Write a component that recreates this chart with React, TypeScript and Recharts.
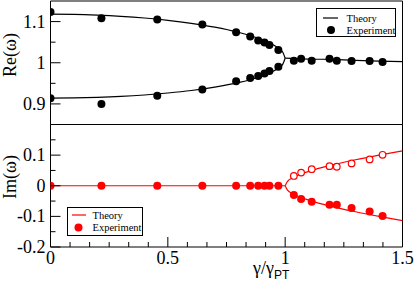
import { ComposedChart, Line, Scatter, XAxis, YAxis, ReferenceArea } from "recharts";

// experiment, gamma / gamma_PT
const expGamma = [0, 0.217, 0.455, 0.647, 0.791, 0.851, 0.885, 0.912, 0.933, 0.971, 1.037, 1.068, 1.113, 1.189, 1.22, 1.283, 1.36, 1.415];
const expReUpper = [1.123, 1.108, 1.105, 1.093, 1.074, 1.064, 1.054, 1.049, 1.043, 1.031, 1.005, 1.01, 1.005, 1.01, 1.005, 1.004, 1.004, 1.002];
const expReLower = [0.914, 0.9, 0.92, 0.935, 0.955, 0.963, 0.968, 0.974, 0.98, 0.99];
const expImZero = [0, 0, 0, 0, 0, 0, 0, 0, 0, 0];
const expImOpen = [0.032, 0.043, 0.054, 0.064, 0.062, 0.073, 0.086, 0.101];
const expImLower = [-0.03, -0.043, -0.052, -0.062, -0.062, -0.073, -0.084, -0.099];

// theory curves
const thGamma = [0, 0.1, 0.2, 0.3, 0.4, 0.5, 0.6, 0.7, 0.8, 0.85, 0.9, 0.94, 0.97, 0.99, 1.0];
const thReUpper = [1.118, 1.1175, 1.1157, 1.1128, 1.1087, 1.1031, 1.0958, 1.0864, 1.074, 1.0661, 1.0565, 1.0464, 1.0361, 1.0255, 1.011];
const thReLower = [0.914, 0.9145, 0.9159, 0.9182, 0.9217, 0.9265, 0.9326, 0.9408, 0.9516, 0.9587, 0.9675, 0.9768, 0.9865, 0.9967, 1.011];
const thTailGamma = [1.0, 1.05, 1.1, 1.2, 1.3, 1.4, 1.5];
const thReTail = [1.011, 1.01, 1.009, 1.008, 1.006, 1.004, 1.0025];
const thImZeroGamma = [0, 1.0];
const thImZero = [0, 0];
const thImGamma = [1.0, 1.01, 1.03, 1.06, 1.1, 1.2, 1.3, 1.4, 1.5];
const thImUpper = [0, 0.0145, 0.025, 0.036, 0.047, 0.068, 0.085, 0.1, 0.114];
const thImLower = [0, -0.0145, -0.025, -0.036, -0.047, -0.068, -0.085, -0.1, -0.114];

// ticks
const xTicks = [0, 0.0833, 0.1667, 0.25, 0.3333, 0.4167, 0.5, 0.5833, 0.6667, 0.75, 0.8333, 0.9167, 1, 1.0833, 1.1667, 1.25, 1.3333, 1.4167, 1.5];
const xMajor = [0, 0.5, 1, 1.5];
const reTicks = [0.9, 0.95, 1, 1.05, 1.1];
const reMajor = [0.9, 1, 1.1];
const imTicks = [-0.2, -0.15, -0.1, -0.05, 0, 0.05, 0.1, 0.15];
const imMajor = [-0.2, -0.1, 0, 0.1];

const pts = (g: number[], v: number[]) => v.map((val, i) => ({ g: g[i], v: val }));

const SERIF = "Liberation Serif, Times New Roman, serif";
const RED = "#ff0000";
const W = 415;

const xTick = (labels: boolean) => (props: any) => {
  const { x, y, payload } = props;
  const major = xMajor.includes(payload.value);
  return (
    <g>
      <line x1={x} x2={x} y1={y} y2={y - (major ? 10 : 5)} stroke="#000" />
      {labels && major && (
        <text x={x} y={y + 11} textAnchor="middle" dominantBaseline="central" fontSize={18} style={{ fontFamily: SERIF }} fill="#000">
          {String(payload.value)}
        </text>
      )}
    </g>
  );
};

const yTick = (majors: number[]) => (props: any) => {
  const { x, y, payload } = props;
  const major = majors.includes(payload.value);
  return (
    <g>
      <line x1={x} x2={x + (major ? 10 : 5)} y1={y} y2={y} stroke="#000" />
      {major && (
        <text x={x - 5} y={y} textAnchor="end" dominantBaseline="central" fontSize={18} style={{ fontFamily: SERIF }} fill="#000">
          {String(payload.value)}
        </text>
      )}
    </g>
  );
};

const dot = (fill: string, r: number) => (p: any) => <circle cx={p.cx} cy={p.cy} r={r} fill={fill} />;
const ring = (p: any) => <circle cx={p.cx} cy={p.cy} r={3.3} fill="#fff" stroke={RED} strokeWidth={1.2} />;

const legendText = { fontFamily: SERIF, fontSize: 10.5 };

export default function App() {
  return (
    <div style={{ position: "absolute", left: 0, top: 0, width: W, height: 282, background: "#fff", fontFamily: SERIF }}>
      {/* Re panel */}
      <div style={{ position: "absolute", left: 0, top: 0 }}>
        <ComposedChart width={W} height={125} margin={{ top: 1, right: 12.5, bottom: 0.5, left: 0.5 }}>
          <XAxis type="number" dataKey="g" domain={[0, 1.5]} allowDataOverflow ticks={xTicks} interval={0}
            height={0} tickSize={0} tickMargin={0} axisLine={false} tickLine={false} tick={xTick(false)} />
          <YAxis type="number" domain={[0.85, 1.15]} allowDataOverflow ticks={reTicks} interval={0}
            width={50} tickSize={0} tickMargin={0} axisLine={false} tickLine={false} tick={yTick(reMajor)} />
          <ReferenceArea x1={0} x2={1.5} y1={0.85} y2={1.15} fill="none" stroke="#000" strokeWidth={1} fillOpacity={0} strokeOpacity={1} />
          <Line data={pts(thGamma, thReUpper)} dataKey="v" type="monotone" stroke="#000" strokeWidth={1.2} dot={false} isAnimationActive={false} />
          <Line data={pts(thGamma, thReLower)} dataKey="v" type="monotone" stroke="#000" strokeWidth={1.2} dot={false} isAnimationActive={false} />
          <Line data={pts(thTailGamma, thReTail)} dataKey="v" type="monotone" stroke="#000" strokeWidth={1.2} dot={false} isAnimationActive={false} />
          <Scatter data={pts(expGamma, expReUpper)} dataKey="v" shape={dot("#000", 4)} isAnimationActive={false} />
          <Scatter data={pts(expGamma, expReLower)} dataKey="v" shape={dot("#000", 4)} isAnimationActive={false} />
        </ComposedChart>
      </div>

      {/* Im panel */}
      <div style={{ position: "absolute", left: 0, top: 124 }}>
        <ComposedChart width={W} height={158} margin={{ top: 0.5, right: 12.5, bottom: 0, left: 0.5 }}>
          <XAxis type="number" dataKey="g" domain={[0, 1.5]} allowDataOverflow ticks={xTicks} interval={0}
            height={35} tickSize={0} tickMargin={0} axisLine={false} tickLine={false} tick={xTick(true)} />
          <YAxis type="number" domain={[-0.2, 0.2]} allowDataOverflow ticks={imTicks} interval={0}
            width={50} tickSize={0} tickMargin={0} axisLine={false} tickLine={false} tick={yTick(imMajor)} />
          <ReferenceArea x1={0} x2={1.5} y1={-0.2} y2={0.2} fill="none" stroke="#000" strokeWidth={1} fillOpacity={0} strokeOpacity={1} />
          <Line data={pts(thImZeroGamma, thImZero)} dataKey="v" type="linear" stroke={RED} strokeWidth={1.2} dot={false} isAnimationActive={false} />
          <Line data={pts(thImGamma, thImUpper)} dataKey="v" type="monotone" stroke={RED} strokeWidth={1.2} dot={false} isAnimationActive={false} />
          <Line data={pts(thImGamma, thImLower)} dataKey="v" type="monotone" stroke={RED} strokeWidth={1.2} dot={false} isAnimationActive={false} />
          <Scatter data={pts(expGamma, expImZero)} dataKey="v" shape={dot(RED, 4)} isAnimationActive={false} />
          <Scatter data={pts(expGamma.slice(10), expImOpen)} dataKey="v" shape={ring} isAnimationActive={false} />
          <Scatter data={pts(expGamma.slice(10), expImLower)} dataKey="v" shape={dot(RED, 4)} isAnimationActive={false} />
        </ComposedChart>
      </div>

      {/* axis titles */}
      <div style={{ position: "absolute", left: 10, top: 54.5, transform: "translate(-50%, -50%) rotate(-90deg)", fontSize: 18, whiteSpace: "nowrap", lineHeight: 1 }}>
        Re(ω)
      </div>
      <div style={{ position: "absolute", left: 10, top: 177, transform: "translate(-50%, -50%) rotate(-90deg)", fontSize: 18, whiteSpace: "nowrap", lineHeight: 1 }}>
        Im(ω)
      </div>
      <div style={{ position: "absolute", left: 253, top: 259, fontSize: 18, whiteSpace: "nowrap", lineHeight: 1 }}>
        γ/γ<span style={{ fontFamily: "Liberation Sans, Arial, sans-serif", fontSize: 12, position: "relative", top: 5 }}>PT</span>
      </div>

      {/* legends */}
      <svg width={W} height={282} style={{ position: "absolute", left: 0, top: 0, pointerEvents: "none" }}>
        <rect x={316.5} y={8.5} width={79} height={28} fill="#fff" stroke="#000" strokeWidth={1} />
        <line x1={323} x2={338} y1={18} y2={18} stroke="#000" strokeWidth={1.2} />
        <text x={346.5} y={18} dominantBaseline="central" style={legendText}>Theory</text>
        <circle cx={331} cy={30} r={4} fill="#000" />
        <text x={346.5} y={30} dominantBaseline="central" style={legendText}>Experiment</text>

        <rect x={67.5} y={207.5} width={75} height={28} fill="#fff" stroke="#000" strokeWidth={1} />
        <line x1={72} x2={86} y1={215} y2={215} stroke={RED} strokeWidth={1.2} />
        <text x={92.5} y={215} dominantBaseline="central" style={legendText}>Theory</text>
        <circle cx={78.5} cy={227.5} r={4} fill={RED} />
        <text x={92.5} y={227.5} dominantBaseline="central" style={legendText}>Experiment</text>
      </svg>
    </div>
  );
}
